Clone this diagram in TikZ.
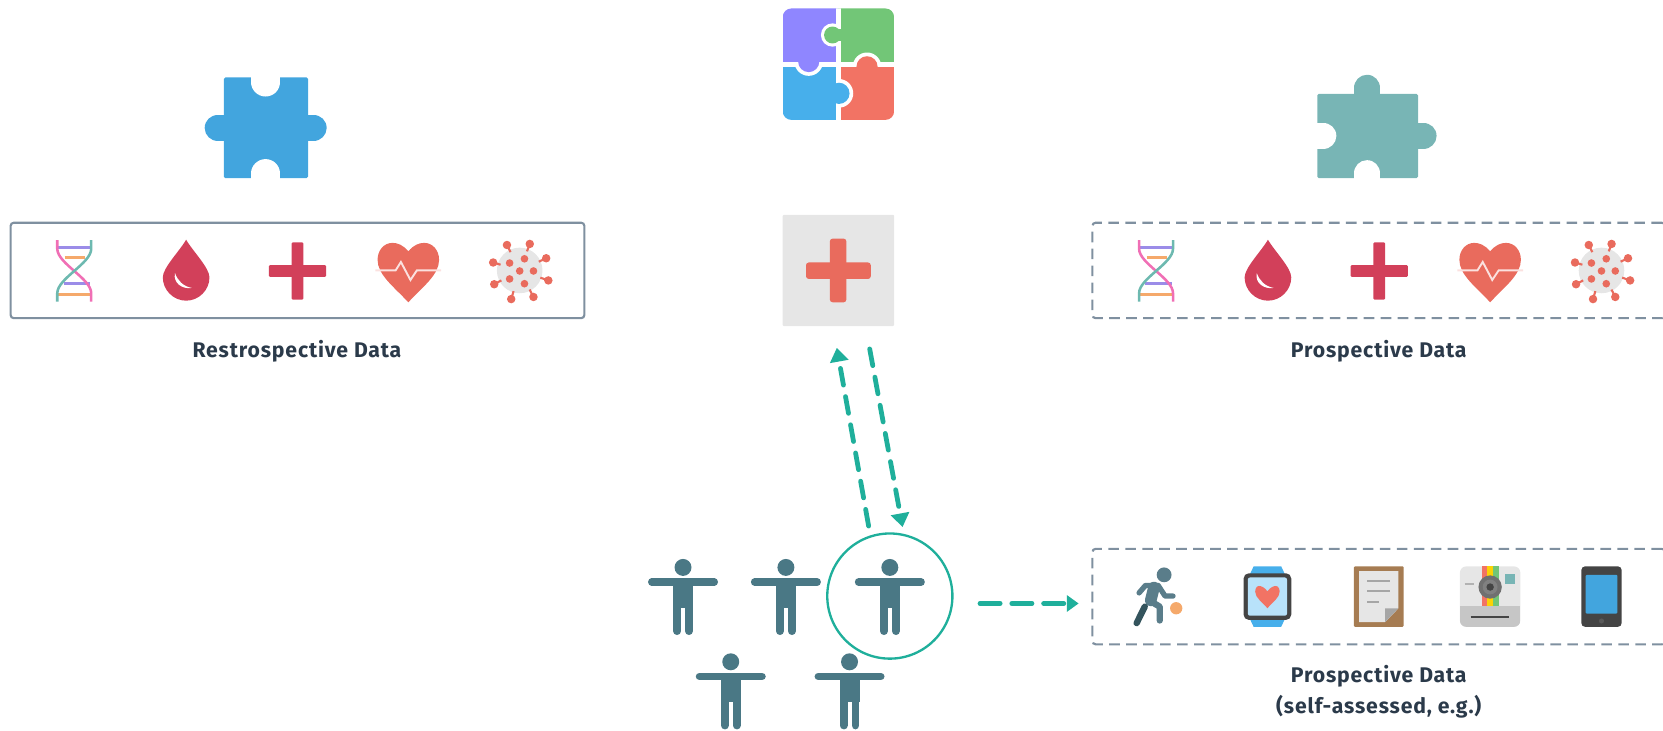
\documentclass[tikz,border=0pt]{standalone}
\usepackage{fontspec}
\setmainfont[LetterSpace=4]{Fira Sans}
\usetikzlibrary{arrows.meta}
\definecolor{teal1}{HTML}{1FAF9B}
\definecolor{slate}{HTML}{7F90A0}
\definecolor{inkc}{HTML}{2B3A4A}
\definecolor{peep}{HTML}{4A7885}
\definecolor{runc}{HTML}{5A7D8A}
\definecolor{crim}{HTML}{D2405A}
\definecolor{coral}{HTML}{E96B5D}
\definecolor{lgray}{HTML}{E6E6E6}
\definecolor{pblue}{HTML}{42A5DE}
\definecolor{pteal}{HTML}{78B5B5}
\definecolor{cpurple}{HTML}{8F86FF}
\definecolor{cgreen}{HTML}{72C677}
\definecolor{cblue}{HTML}{47AFEB}
\definecolor{cred}{HTML}{F27364}
\definecolor{scrn}{HTML}{B8E2FA}
\definecolor{dnapink}{HTML}{F06FB5}
\definecolor{dnateal}{HTML}{6DB9B0}
\definecolor{dnapur}{HTML}{9B8CE8}
\definecolor{dnaora}{HTML}{F5A96B}
\definecolor{darkdev}{HTML}{444444}
\definecolor{brownc}{HTML}{A67C52}
\tikzset{
  lbl/.style={font=\bfseries\fontsize{20}{29}\selectfont,text=inkc,align=center,inner sep=0pt},
  databox/.style={draw=slate,line width=2pt,rounded corners=3pt,minimum height=90pt,inner sep=0pt},
  dashbox/.style={databox,dash pattern=on 10pt off 6pt},
  flow/.style={draw=teal1,line width=4.5pt,line cap=round,dash pattern=on 16pt off 11pt,
     -{Triangle[length=13pt,width=17pt,fill=teal1]}},
  person/.pic={
    \fill[peep] (0,0) circle (8);
    \draw[peep,line width=7pt,line cap=round] (-29.5,13.8) -- (29.5,13.8);
    \fill[peep] (-9.4,13) rectangle (9.4,38);
    \draw[peep,line width=7.5pt,line cap=round] (-5.6,30) -- (-5.6,60) (5.6,30) -- (5.6,60);
  },
  dnaicon/.pic={
    \draw[dnapur,line width=2.6pt] (-15,-22) -- (15,-22) (-10,12) -- (15,12);
    \draw[dnaora,line width=2.6pt] (-9,-12.4) -- (10,-12.4) (-15,22.5) -- (15,22.5);
    \draw[dnapink,line width=2.4pt] (-16,-29) -- (-16,-21) .. controls (-16,-7) and (16,7) .. (16,21) -- (16,29);
    \draw[dnateal,line width=2.4pt] (16,-29) -- (16,-21) .. controls (16,-7) and (-16,7) .. (-16,21) -- (-16,29);
  },
  dropicon/.pic={
    \fill[crim] (0,-28.5) .. controls (-6,-18) and (-22,-2) .. (-22,7)
      .. controls (-22,19) and (-12,29) .. (0,29)
      .. controls (12,29) and (22,19) .. (22,7)
      .. controls (22,-2) and (6,-18) .. (0,-28.5) -- cycle;
    \fill[white] (-10.5,3) .. controls (-12.5,12) and (-4,18.5) .. (5.5,17)
      .. controls (-3,15.5) and (-8,10) .. (-10.5,3) -- cycle;
  },
  plusicon/.pic={
    \fill[crim,rounded corners=1pt] (-5.5,-27) rectangle (5.5,27);
    \fill[crim,rounded corners=1pt] (-27,-5.5) rectangle (27,5.5);
  },
  hearticon/.pic={
    \fill[coral] (0,-20) .. controls (-5,-26) and (-10,-28) .. (-15,-28)
      .. controls (-23,-28) and (-29,-21) .. (-29,-12)
      .. controls (-29,2) and (-14,13) .. (0,28)
      .. controls (14,13) and (29,2) .. (29,-12)
      .. controls (29,-21) and (23,-28) .. (15,-28)
      .. controls (10,-28) and (5,-26) .. (0,-20) -- cycle;
    \draw[white!80!coral,line width=1.8pt] (-31,-2) -- (-12,-2) -- (-7,-10) -- (2,7) -- (8,-2) -- (31,-2);
  },
  virusicon/.pic={
    \fill[lgray] (0,0) circle (21.5);
    \foreach \a/\b in {-12/-24,9.5/-25,25/-11.5,27/9.4,13/25,-8/27,-24/13,-25/-7.5}{
      \draw[coral,line width=2pt] (\a,\b) -- ({\a*0.72},{\b*0.72});
      \fill[coral] (\a,\b) circle (4);
    }
    \foreach \a/\b in {-9.5/-7,4.5/-11,0/0.5,13/0.5,-9.5/8,4.5/12.5}{
      \fill[coral] (\a,\b) circle (3.6);
    }
  },
  runnericon/.pic={
    \fill[runc] (7.6,-21) circle (7);
    \draw[runc,line width=5pt,line cap=round,line join=round]
      (2,-11) -- (-10,-11) -- (-16,-4) (2,-11) -- (8.5,-1) -- (16,-1);
    \draw[runc,line width=11pt,line cap=round] (-2,-9) -- (-5,3);
    \draw[runc,line width=6pt,line cap=round,line join=round] (-5,4) -- (3.5,9) -- (3.5,22);
    \draw[black!30!peep,line width=6pt,line cap=round] (-10.6,9) -- (-18.3,24.5);
    \fill[dnaora] (19,10.5) circle (5.8);
  },
  watchicon/.pic={
    \fill[cblue] (-13,-28.5) -- (13,-28.5) -- (17,-20) -- (17,20) -- (13,28.5) -- (-13,28.5) -- (-17,20) -- (-17,-20) -- cycle;
    \fill[darkdev,rounded corners=5pt] (-22.5,-22) rectangle (22.5,22);
    \fill[scrn,rounded corners=2pt] (-18.5,-18) rectangle (18.5,18);
    \fill[cred] (0,-5) .. controls (-3,-9) and (-6,-10) .. (-8,-10)
      .. controls (-11,-10) and (-11.5,-6) .. (-11.5,-4.5)
      .. controls (-11.5,1) and (-5,5) .. (0,11)
      .. controls (5,5) and (11.5,1) .. (11.5,-4.5)
      .. controls (11.5,-6) and (11,-10) .. (8,-10)
      .. controls (6,-10) and (3,-9) .. (0,-5) -- cycle;
  },
  noteicon/.pic={
    \fill[brownc,rounded corners=1pt] (-23.5,-28.5) rectangle (23.5,28.5);
    \fill[lgray] (-18.5,-24) -- (18.5,-24) -- (18.5,11) -- (6,24) -- (-18.5,24) -- cycle;
    \fill[gray!70] (6,24) -- (6,11) -- (18.5,11) -- cycle;
    \draw[gray!70,line width=1.8pt] (-11,-15) -- (11,-15) (-11,-5) -- (11,-5) (-11,5) -- (0,5);
  },
  cameraicon/.pic={
    \fill[lgray,rounded corners=6pt] (-28.5,-28.5) rectangle (28.5,28.5);
    \begin{scope}
      \clip[rounded corners=6pt] (-28.5,-28.5) rectangle (28.5,28.5);
      \fill[gray!45] (-28.5,9) rectangle (28.5,28.5);
    \end{scope}
    \fill[cred] (-8,-28.5) rectangle (-3,9);
    \fill[yellow!70!orange] (-3,-28.5) rectangle (3,9);
    \fill[cgreen] (3,-28.5) rectangle (8,9);
    \fill[gray!60!black!80] (0,-9) circle (11);
    \fill[gray] (0,-9) circle (7);
    \fill[darkdev] (0,-9) circle (3.5);
    \fill[pteal] (14,-21) rectangle (23.5,-12);
    \draw[gray!60,line width=1.6pt] (-24,-12) -- (-15,-12);
    \draw[darkdev,line width=2.2pt] (-18.5,19) -- (18,19);
  },
  phoneicon/.pic={
    \fill[darkdev,rounded corners=3.5pt] (-19,-28.5) rectangle (19,28.5);
    \fill[pblue,rounded corners=1pt] (-15,-20.5) rectangle (15,16);
    \fill[gray!70!black] (0,23) circle (2.4);
  }
}
\begin{document}
\begin{tikzpicture}[x=1pt,y=-1pt]
\useasboundingbox (0,0) rectangle (1568,688.3);

% left puzzle
\fill[pblue,rounded corners=1.5pt] (211,73) rectangle (290.5,168);
\draw[pblue,line width=25pt,line cap=round] (205.5,120.5) -- (295.5,120.5);
\draw[white,line width=27pt,line cap=round] (250.5,60) -- (250.5,77.5) (250.5,180) -- (250.5,163.5);

% centre puzzle
\begin{scope}
  \clip[rounded corners=8pt] (738,8) rectangle (843,113);
  \fill[cpurple] (738,8) rectangle (790.5,60.5);
  \fill[cgreen] (790.5,8) rectangle (843,60.5);
  \fill[cblue] (738,60.5) rectangle (790.5,113);
  \fill[cred] (790.5,60.5) rectangle (843,113);
  \begin{scope}
    \clip (738,8) rectangle (790.5,60.5);
    \fill[white] (785,33) circle (11);
  \end{scope}
  \begin{scope}
    \clip (738,60.5) rectangle (790.5,113);
    \fill[white] (762.5,58) circle (13.5);
  \end{scope}
  \begin{scope}
    \clip (790.5,60.5) rectangle (843,113);
    \fill[white] (791,88) circle (13.5);
  \end{scope}
  \begin{scope}
    \clip (790.5,8) rectangle (843,60.5);
    \fill[white] (817.5,63) circle (13.5);
  \end{scope}
  \draw[white,line width=5pt] (790.5,8) -- (790.5,113) (738,60.5) -- (843,60.5);
  \fill[cgreen] (785,33) circle (8);
  \draw[cgreen,line width=11pt] (785,33) -- (794,33);
  \fill[cpurple] (762.5,58) circle (10);
  \draw[cpurple,line width=13pt] (762.5,58) -- (762.5,57);
  \fill[cblue] (791,88) circle (10);
  \draw[cblue,line width=13pt] (791,88) -- (787,88);
  \fill[cred] (817.5,63) circle (10);
  \draw[cred,line width=13pt] (817.5,63) -- (817.5,64);
\end{scope}

% right puzzle
\fill[pteal,rounded corners=1.5pt] (1242,88.5) rectangle (1337,168);
\draw[pteal,line width=25pt,line cap=round] (1289,83) -- (1289,95);
\draw[pteal,line width=25pt,line cap=round] (1330,128) -- (1342,128);
\draw[white,line width=25pt,line cap=round] (1230,128) -- (1247.5,128) (1289,180) -- (1289,163.5);

% data boxes
\node[databox,minimum width=541pt] (retro) at (280.5,255) {};
\node[dashbox,minimum width=540pt] (prosp) at (1300,255) {};
\node[dashbox,minimum width=540pt] (self) at (1300,562.5) {};

\pic at (70,255.5) {dnaicon};
\pic at (175.5,254.5) {dropicon};
\pic at (280.5,255.5) {plusicon};
\pic at (385,257) {hearticon};
\pic at (490,255) {virusicon};

\pic at (1090,255.5) {dnaicon};
\pic at (1195.5,254.5) {dropicon};
\pic at (1300.5,255.5) {plusicon};
\pic at (1405,257) {hearticon};
\pic at (1510,255) {virusicon};

\pic at (1090,563) {runnericon};
\pic at (1195,562.5) {watchicon};
\pic at (1300,562.5) {noteicon};
\pic at (1405,562.5) {cameraicon};
\pic at (1510,562.5) {phoneicon};

% labels
\node[lbl] (lretro) at (280,331) {Restrospective Data};
\node[lbl] (lprosp) at (1300,331) {Prospective Data};
\node[lbl] (lself) at (1300,652) {Prospective Data\\(self-assessed, e.g.)};

% hospital tile
\node[fill=lgray,minimum size=105pt,inner sep=0pt,rounded corners=1pt] (care) at (790.5,255) {};
\fill[coral,rounded corners=2.5pt] (782.5,225) rectangle (798,285);
\fill[coral,rounded corners=2.5pt] (760,247.5) rectangle (821,263);

% people
\pic at (644,535) {person};
\pic at (741,535) {person};
\pic at (839,535) {person};
\pic at (689,624) {person};
\pic at (801,624) {person};
\node[circle,draw=teal1,line width=2.2pt,minimum size=118pt,inner sep=0pt] (sel) at (839,562) {};

% connectors
\coordinate (upA) at (819,496);
\coordinate (upB) at (789,328);
\coordinate (dnA) at (820,329);
\coordinate (dnB) at (851,497);
\coordinate (hzA) at (924,569);
\coordinate (hzB) at (1017,569);
\draw[flow] (upA) -- (upB);
\draw[flow] (dnA) -- (dnB);
\draw[flow,dash pattern=on 19pt off 11pt,-{Triangle[length=11pt,width=15pt,fill=teal1]}] (hzA) -- (hzB);
\end{tikzpicture}
\end{document}
